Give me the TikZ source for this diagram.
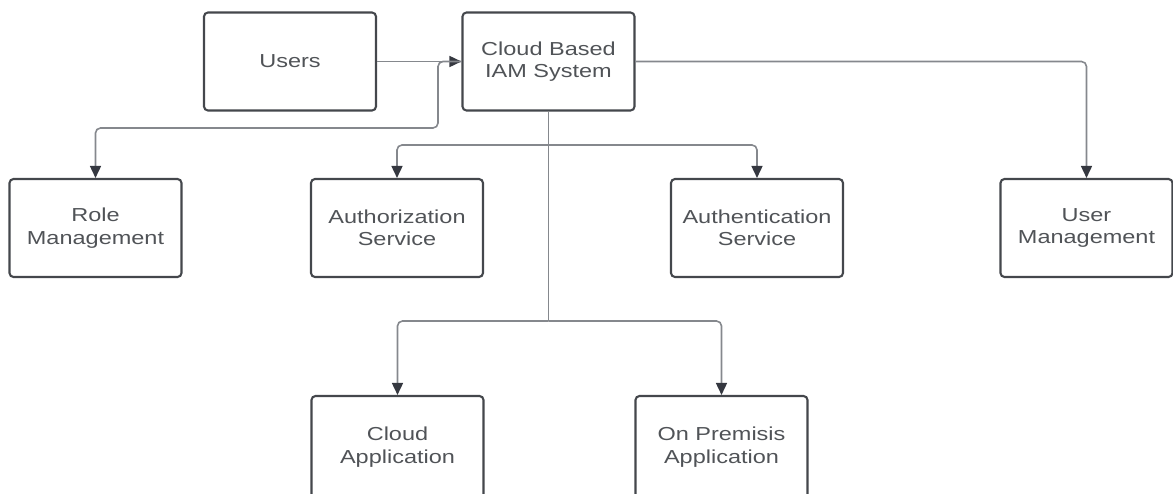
\documentclass[tikz,border=0pt]{standalone}
\usepackage{fontspec}
\setmainfont[FakeStretch=1.25]{Liberation Sans}
\usetikzlibrary{arrows.meta}
\definecolor{boxc}{HTML}{44474C}
\definecolor{linec}{HTML}{85888D}
\definecolor{tipc}{HTML}{353840}
\definecolor{txtc}{HTML}{505357}
\tikzset{
  box/.style={draw=boxc, line width=2.1pt, rounded corners=4pt, minimum width=172pt, minimum height=98pt, align=center, text=txtc, font=\fontsize{18.8}{22.5}\selectfont, inner sep=0pt},
  conn/.style={draw=linec, line width=1.6pt, rounded corners=5pt, -{Triangle[length=12pt,width=11pt,color=tipc]}},
  plain/.style={draw=linec, line width=1.6pt, rounded corners=5pt}
}
\begin{document}
\begin{tikzpicture}[x=1pt,y=-1pt]
\clip (0,0) rectangle (1173,493);
\node[box] (users) at (290,61.5) {Users};
\node[box] (iam) at (548.5,61.5) {Cloud Based\\IAM System};
\node[box] (role) at (95.5,228) {Role\\Management};
\node[box] (authz) at (397,228) {Authorization\\Service};
\node[box] (authn) at (757,228) {Authentication\\Service};
\node[box] (umgmt) at (1086.5,228) {User\\Management};
\node[box, minimum height=102pt] (capp) at (397.5,447) {Cloud\\Application};
\node[box, minimum height=102pt] (papp) at (721.5,447) {On Premisis\\Application};
\coordinate (j1) at (548.5,145);
\coordinate (j2) at (548.5,321);
\draw[conn] (users.east) -- (iam.west);
\draw[conn] (iam.west) -- (438,61.5) -- (438,128) -- (95.5,128) -- (role.north);
\draw[conn] (iam.east) -- (1086.5,61.5) -- (umgmt.north);
\draw[plain] (iam.south) -- (j2);
\draw[conn] (j1) -- (397,145) -- (authz.north);
\draw[conn] (j1) -- (757,145) -- (authn.north);
\draw[conn] (j2) -- (397.5,321) -- (capp.north);
\draw[conn] (j2) -- (721.5,321) -- (papp.north);
\end{tikzpicture}
\end{document}
